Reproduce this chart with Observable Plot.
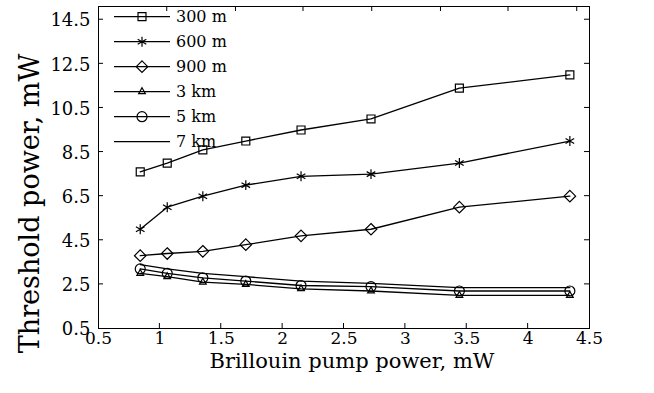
<!DOCTYPE html>
<html><head><meta charset="utf-8">
<script src="https://cdn.jsdelivr.net/npm/d3@7"></script>
<script src="https://cdn.jsdelivr.net/npm/@observablehq/plot@0.6"></script>
<style>body{margin:0;background:#fff} svg{display:block}</style>
</head><body><div id="chart"></div>
<script>
// Data
const pumpPower = [0.84, 1.06, 1.35, 1.70, 2.15, 2.72, 3.44, 4.34];
const seriesNames = ["300 m", "600 m", "900 m", "3 km", "5 km", "7 km"];
const threshold300m = [7.6, 8.0, 8.6, 9.0, 9.5, 10.0, 11.4, 12.0];
const threshold600m = [5.0, 6.0, 6.5, 7.0, 7.4, 7.5, 8.0, 9.0];
const threshold900m = [3.8, 3.9, 4.0, 4.3, 4.7, 5.0, 6.0, 6.5];
const threshold3km = [3.0, 2.85, 2.6, 2.5, 2.3, 2.2, 2.0, 2.0];
const threshold5km = [3.2, 3.0, 2.8, 2.65, 2.45, 2.4, 2.2, 2.2];
const threshold7km = [3.4, 3.2, 3.0, 2.85, 2.65, 2.55, 2.35, 2.35];
const xTicks = [0.5, 1, 1.5, 2, 2.5, 3, 3.5, 4, 4.5];
const yTicks = [0.5, 2.5, 4.5, 6.5, 8.5, 10.5, 12.5, 14.5];
const topTicks = [1.06, 1.62, 2.17, 2.73, 3.29, 3.84, 4.40];
const xLabel = "Brillouin pump power, mW";
const yLabel = "Threshold power, mW";

const seriesValues = [threshold300m, threshold600m, threshold900m, threshold3km, threshold5km, threshold7km];
const symbols = ["square", "asterisk", "diamond2", "triangle", "circle", null];
const radii = [4.5, 4.7, 5.2, 2.5, 5, 0];
const d3Symbols = {square: d3.symbolSquare, asterisk: d3.symbolAsterisk, diamond2: d3.symbolDiamond2, triangle: d3.symbolTriangle, circle: d3.symbolCircle};

const table = seriesNames.flatMap((s, i) => pumpPower.map((x, j) => ({series: s, x, y: seriesValues[i][j]})));

const FONT = "DejaVu Serif";
const marks = [
  Plot.frame({stroke: "black", strokeWidth: 1}),
  Plot.axisX(xTicks, {tickSize: 0, tickPadding: 3, tickFormat: d => String(d), fontSize: 17, label: null}),
  Plot.axisY(yTicks, {tickSize: 0, tickPadding: 8, tickFormat: d => d.toFixed(1), fontSize: 18, dy: 1, label: null}),
  Plot.line(table, {x: "x", y: "y", z: "series", stroke: "black", strokeWidth: 1.3}),
  Plot.text([xLabel], {text: d => d, frameAnchor: "bottom", textAnchor: "middle", lineAnchor: "bottom", dy: 39, dx: 8, fontSize: 21}),
  Plot.text([yLabel], {text: d => d, frameAnchor: "left", textAnchor: "middle", lineAnchor: "bottom", rotate: -90, dx: -60, dy: 36, fontSize: 27})
];
seriesNames.forEach((s, i) => {
  if (!symbols[i]) return;
  marks.push(Plot.dot(table.filter(d => d.series === s), {x: "x", y: "y", symbol: symbols[i], r: radii[i], stroke: "black", strokeWidth: 1.2, fill: "none"}));
});

const chart = Plot.plot({
  width: 654, height: 393,
  marginLeft: 98, marginRight: 65, marginTop: 6, marginBottom: 65,
  style: {fontFamily: FONT, color: "black", background: "white"},
  x: {domain: [0.5, 4.5]},
  y: {domain: [0.5, 15.1]},
  marks
});
document.getElementById("chart").append(chart);

// inward tick marks (MATLAB box style), positioned through Plot's scales
const sx = chart.scale("x"), sy = chart.scale("y");
const g = d3.select(chart).append("g").attr("stroke", "black").attr("stroke-width", 1);
const [x0, x1] = sx.range, [y0, y1] = sy.range; // y0 bottom, y1 top
xTicks.slice(1, -1).forEach(t => g.append("line").attr("x1", sx.apply(t)).attr("x2", sx.apply(t)).attr("y1", y0).attr("y2", y0 - 5));
topTicks.forEach(t => g.append("line").attr("x1", sx.apply(t)).attr("x2", sx.apply(t)).attr("y1", y1).attr("y2", y1 + 5));
yTicks.slice(1).forEach(t => {
  g.append("line").attr("x1", x0).attr("x2", x0 + 5).attr("y1", sy.apply(t)).attr("y2", sy.apply(t));
  g.append("line").attr("x1", x1).attr("x2", x1 - 5).attr("y1", sy.apply(t)).attr("y2", sy.apply(t));
});

// legend (top-left inside the frame)
const lg = d3.select(chart).append("g").attr("font-family", FONT).attr("font-size", 16).attr("text-anchor", "start");
seriesNames.forEach((s, i) => {
  const cy = 16.7 + i * 25;
  const row = lg.append("g").attr("transform", `translate(114,${cy})`);
  row.append("line").attr("x1", 0).attr("x2", 56).attr("stroke", "black").attr("stroke-width", 1.3);
  if (symbols[i]) {
    row.append("path").attr("transform", "translate(28,0)")
      .attr("d", d3.symbol(d3Symbols[symbols[i]], Math.PI * radii[i] * radii[i])())
      .attr("fill", "none").attr("stroke", "black").attr("stroke-width", 1.2);
  }
  row.append("text").attr("x", 62).attr("y", 0).attr("dy", "0.35em").attr("fill", "black").attr("text-anchor", "start").text(s);
});
</script></body></html>
